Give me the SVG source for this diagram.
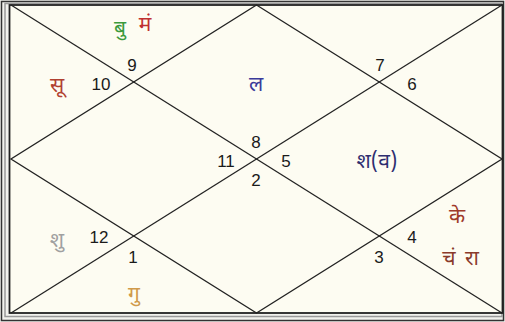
<svg xmlns="http://www.w3.org/2000/svg" width="505" height="322" viewBox="0 0 505 322">
<style>
.num{font-family:"Liberation Sans",Arial,sans-serif;font-size:17px;fill:#1a1a1a;text-anchor:middle}
.pl{font-family:"Noto Sans Devanagari","Noto Sans","Noto Sans CJK SC",sans-serif;font-size:21px;text-anchor:middle}
.ln{stroke:#222;stroke-width:1.3;fill:none}
</style>
<rect x="0" y="0" width="505" height="322" fill="#f2f2ee"/>
<g id="frame">
<rect x="1.5" y="1.5" width="502" height="319" fill="none" stroke="#333" stroke-width="1.5"/>
<rect x="5" y="3.5" width="497" height="313" fill="none" stroke="#999" stroke-width="1.5"/>
<rect x="9.5" y="5" width="493" height="308" fill="#fdfcf2" stroke="#222" stroke-width="1.8"/>
</g>
<g id="connectors" class="ln">
<line x1="11" y1="5" x2="502" y2="313"/>
<line x1="11" y1="313" x2="502" y2="5"/>
<polygon points="256.5,5 502,159 256.5,313 11,159"/>
</g>
<g id="house1"><text class="num" x="133" y="263">1</text><text class="pl" x="134" y="301" fill="#d09a4a">गु</text></g>
<g id="house2"><text class="num" x="256" y="186">2</text></g>
<g id="house3"><text class="num" x="379" y="263">3</text></g>
<g id="house4"><text class="num" x="412" y="243">4</text><text class="pl" x="457" y="223" fill="#a03a2a">के</text><text class="pl" x="449" y="265" fill="#8a3a2a">चं</text><text class="pl" x="472" y="265" fill="#8a3a2a">रा</text></g>
<g id="house5"><text class="num" x="286" y="167">5</text><text class="pl" x="377" y="168" fill="#2e2e70">श(व)</text></g>
<g id="house6"><text class="num" x="412" y="90">6</text></g>
<g id="house7"><text class="num" x="380" y="71">7</text></g>
<g id="house8"><text class="num" x="256" y="148">8</text><text class="pl" x="256" y="91" fill="#3a3a9a">ल</text></g>
<g id="house9"><text class="num" x="132" y="71">9</text><text class="pl" x="120" y="35" fill="#3c9a3c">बु</text><text class="pl" x="145" y="31" fill="#c03030">मं</text></g>
<g id="house10"><text class="num" x="101" y="90">10</text><text class="pl" x="57" y="92" fill="#b04030">सू</text></g>
<g id="house11"><text class="num" x="226" y="167">11</text></g>
<g id="house12"><text class="num" x="99" y="243">12</text><text class="pl" x="57" y="247" fill="#a0a0a0">शु</text></g>
</svg>
